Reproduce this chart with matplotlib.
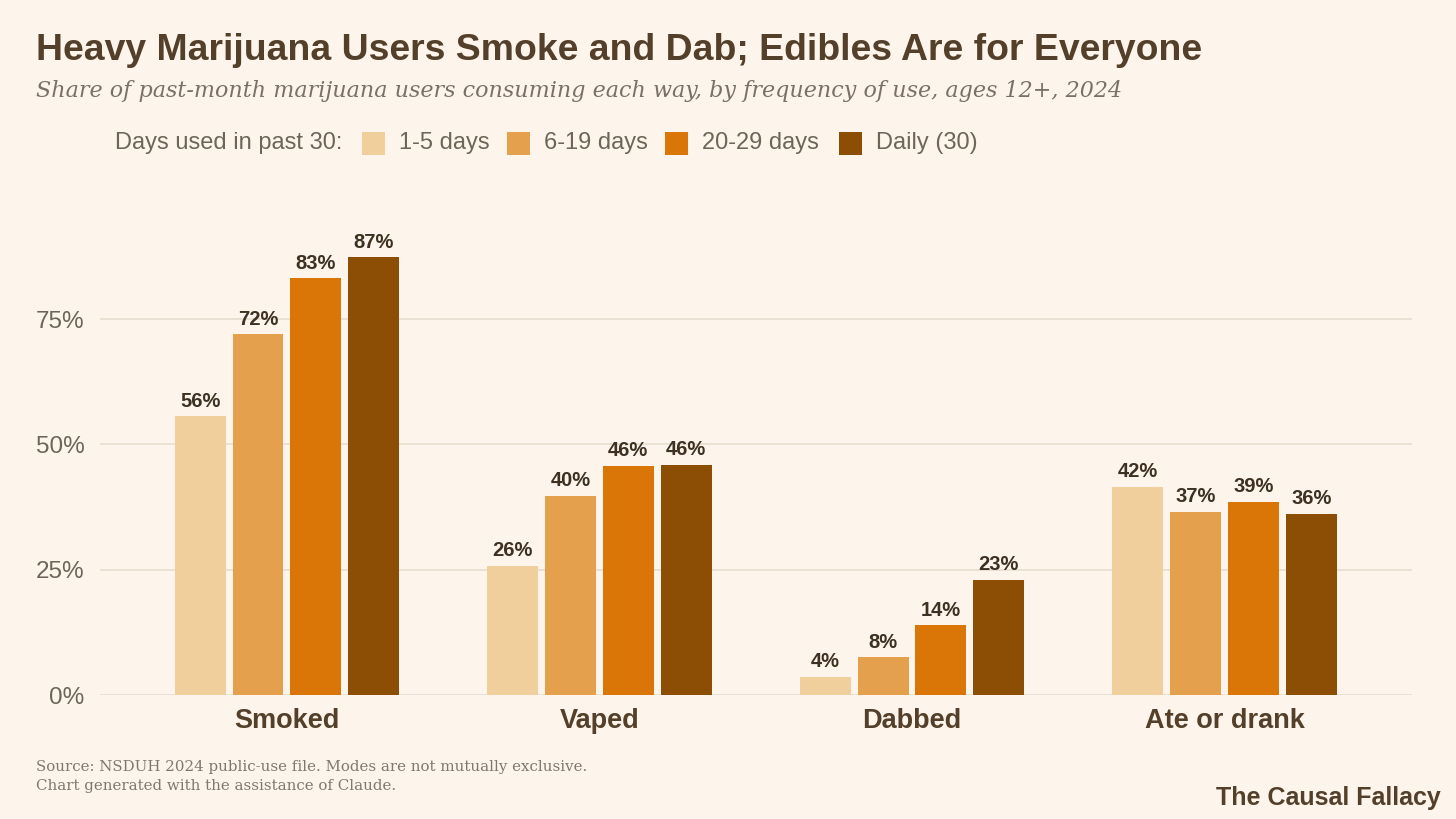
import numpy as np
import matplotlib
matplotlib.use("Agg")
import matplotlib.pyplot as plt
from matplotlib.patches import Rectangle

# ---- data ----
categories = ["Smoked", "Vaped", "Dabbed", "Ate or drank"]
series_names = ["1-5 days", "6-19 days", "20-29 days", "Daily (30)"]
days_1_5   = [55.6, 25.8, 3.6, 41.6]
days_6_19  = [72.0, 39.8, 7.5, 36.6]
days_20_29 = [83.2, 45.8, 13.9, 38.6]
daily_30   = [87.4, 46.0, 23.0, 36.2]
y_ticks = [0, 25, 50, 75]
y_tick_labels = ["0%", "25%", "50%", "75%"]

BG      = "#FDF5EB"
TITLE_C = "#54402A"
TEXT_C  = "#3E3122"
GRAY_C  = "#6E6458"
GRID_C  = "#E6DDD0"
colors  = ["#F0CF9C", "#E5A04E", "#DA7508", "#8B4E04"]

SANS  = ["Liberation Sans", "DejaVu Sans"]
SERIF = ["DejaVu Serif"]

W, H = 1456, 819
fig = plt.figure(figsize=(W / 100, H / 100), dpi=100, facecolor=BG)
ax = fig.add_axes([0.0687, 0.1514, 0.9011, 0.6118])
ax.set_facecolor(BG)

values = [days_1_5, days_6_19, days_20_29, daily_30]
x = np.arange(len(categories))
pitch = 0.185
width = 0.163
for i, (vals, col) in enumerate(zip(values, colors)):
    pos = x + (i - 1.5) * pitch
    ax.bar(pos, vals, width=width, color=col, zorder=3)
    for px, v in zip(pos, vals):
        ax.text(px, v + 1.1, f"{v:.0f}%", ha="center", va="bottom",
                fontsize=14.5, fontweight="bold", color=TEXT_C,
                family=SANS, zorder=4)

ax.set_xlim(-0.598, 3.60)
ax.set_ylim(0, 100)
ax.set_yticks(y_ticks)
ax.set_yticklabels(y_tick_labels, family=SANS, fontsize=17.5, color=GRAY_C)
ax.set_xticks(x)
ax.set_xticklabels(categories, family=SANS, fontsize=19.5, fontweight="bold",
                   color=TITLE_C)
ax.tick_params(axis="both", length=0)
ax.tick_params(axis="y", pad=11)
ax.tick_params(axis="x", pad=9)
ax.grid(axis="y", color=GRID_C, linewidth=1.2, zorder=0)
for s in ax.spines.values():
    s.set_visible(False)

# titles
fig.text(36 / W, 1 - 50 / H, "Heavy Marijuana Users Smoke and Dab; Edibles Are for Everyone",
         family=SANS, fontsize=26.9, fontweight="bold", color=TITLE_C, va="center")
fig.text(36 / W, 1 - 91 / H,
         "Share of past-month marijuana users consuming each way, by frequency of use, ages 12+, 2024",
         family=SERIF, style="italic", fontsize=16, color="#7A7068", va="center")

# legend row
ly = 1 - 143 / H
fig.text(115 / W, ly, "Days used in past 30:", family=SANS, fontsize=17,
         color=GRAY_C, va="center")
patch_x = [362, 507, 665, 839]
label_x = [399, 544, 702, 876]
for px, lx, name, col in zip(patch_x, label_x, series_names, colors):
    fig.patches.append(Rectangle((px / W, 1 - 155 / H), 23 / W, 23 / H,
                                 transform=fig.transFigure, facecolor=col,
                                 edgecolor="none"))
    fig.text(lx / W, ly, name, family=SANS, fontsize=17,
             color=GRAY_C, va="center")

# footer
fig.text(36 / W, 1 - 767 / H, "Source: NSDUH 2024 public-use file. Modes are not mutually exclusive.",
         family=SERIF, fontsize=10.8, color="#7F7870", va="center")
fig.text(36 / W, 1 - 786 / H, "Chart generated with the assistance of Claude.",
         family=SERIF, fontsize=10.8, color="#7F7870", va="center")
fig.text(1441 / W, 1 - 798 / H, "The Causal Fallacy", family=SANS,
         fontsize=18, fontweight="bold", color=TITLE_C, ha="right", va="center")

fig.savefig("out.png", dpi=100, facecolor=BG)
